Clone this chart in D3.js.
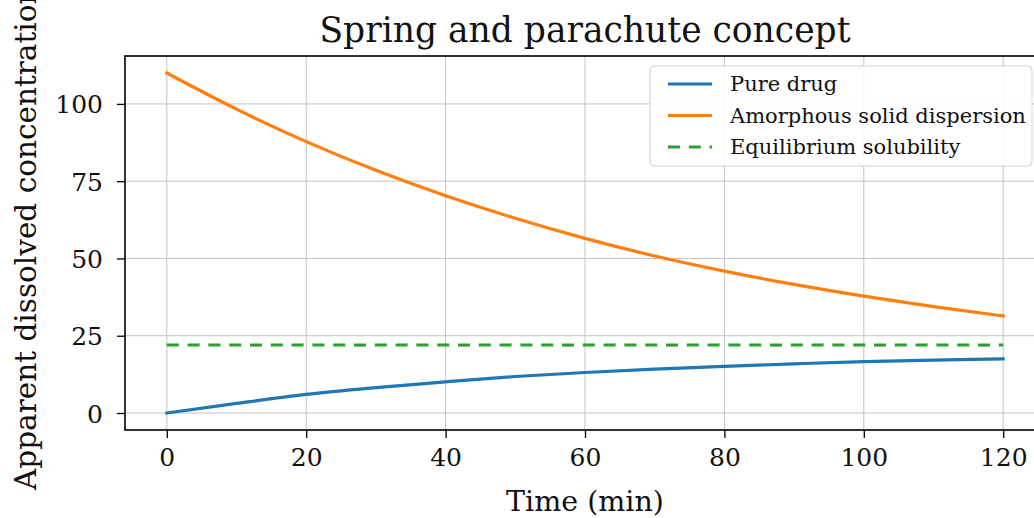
<!doctype html>
<html>
<head>
  <meta charset="utf-8" />
  <title>Spring and parachute concept</title>
  <script src="https://cdn.jsdelivr.net/npm/d3@7"></script>
  <style>
  html,body{margin:0;padding:0;background:#fff;overflow:hidden;}
  svg{display:block;font-family:"DejaVu Serif",serif;}
  </style>
</head>
<body>
<div id="chart"></div>
<script type="text/javascript">
// data
var times = [0,10,20,30,40,50,60,70,80,90,100,110,120];
var pureDrug = [0,3.1,6.0,8.2,10.1,11.8,13.1,14.2,15.1,15.9,16.6,17.1,17.5];
var asd = [110,98.3,87.8,78.5,70.3,63,56.5,50.8,45.9,41.6,37.8,34.4,31.4];
var eqSolubility = 22;
var xTicks = [0,20,40,60,80,100,120];
var yTicks = [0,25,50,75,100];
var seriesNames = ["Pure drug","Amorphous solid dispersion","Equilibrium solubility"];
var colors = ["#1f77b4","#ff7f0e","#2ca02c"];

var W=1034, H=518;
var m={left:125, top:56, right:1045, bottom:430};

var svg = d3.select("#chart").append("svg")
  .attr("width",W).attr("height",H);

var x = d3.scaleLinear().domain([-6,126]).range([m.left,m.right]);
var y = d3.scaleLinear().domain([-5.5,115.5]).range([m.bottom,m.top]);

// grid
var grid = svg.append("g");
grid.selectAll(".gx").data(xTicks).enter().append("line")
  .attr("x1",d=>x(d)).attr("x2",d=>x(d))
  .attr("y1",m.top).attr("y2",m.bottom)
  .attr("stroke","#c4c4c4").attr("stroke-width",1);
grid.selectAll(".gy").data(yTicks).enter().append("line")
  .attr("y1",d=>y(d)).attr("y2",d=>y(d))
  .attr("x1",m.left).attr("x2",m.right)
  .attr("stroke","#c4c4c4").attr("stroke-width",1);

// lines
var line = d3.line()
  .x(function(d,i){ return x(times[i]); })
  .y(function(d){ return y(d); })
  .curve(d3.curveMonotoneX);

svg.append("line")
  .attr("x1",x(times[0])).attr("x2",x(times[times.length-1]))
  .attr("y1",y(eqSolubility)).attr("y2",y(eqSolubility))
  .attr("stroke",colors[2]).attr("stroke-width",3.2)
  .attr("stroke-dasharray","12,8.8");

svg.append("path").attr("d",line(pureDrug))
  .attr("fill","none").attr("stroke",colors[0]).attr("stroke-width",3.2)
  .attr("stroke-linecap","square");
svg.append("path").attr("d",line(asd))
  .attr("fill","none").attr("stroke",colors[1]).attr("stroke-width",3.2)
  .attr("stroke-linecap","square");

// axes
var xAxis = svg.append("g").attr("transform","translate(0,"+m.bottom+")")
  .call(d3.axisBottom(x).tickValues(xTicks).tickSize(8).tickPadding(10).tickSizeOuter(0));
var yAxis = svg.append("g").attr("transform","translate("+m.left+",0)")
  .call(d3.axisLeft(y).tickValues(yTicks).tickSize(8).tickPadding(14).tickSizeOuter(0));
[xAxis,yAxis].forEach(function(g){
  g.select(".domain").remove();
  g.selectAll(".tick line").attr("stroke","#000").attr("stroke-width",1.3);
  g.selectAll(".tick text").attr("fill","#111").style("font-size","25px")
    .style("font-family","'DejaVu Serif',serif");
});
yAxis.selectAll(".tick text").attr("dy","0.36em");

// spines
svg.append("rect").attr("x",m.left).attr("y",m.top)
  .attr("width",m.right-m.left).attr("height",m.bottom-m.top)
  .attr("fill","none").attr("stroke","#000").attr("stroke-width",1.6);

// titles
svg.append("text").attr("x",585).attr("y",42)
  .attr("text-anchor","middle").style("font-size","34.5px").attr("fill","#111")
  .text("Spring and parachute concept");
svg.append("text").attr("x",585).attr("y",511)
  .attr("text-anchor","middle").style("font-size","28.5px").attr("fill","#111")
  .text("Time (min)");
svg.append("text")
  .attr("transform","translate(36,490) rotate(-90)")
  .attr("text-anchor","start").style("font-size","29.5px").attr("fill","#111")
  .text("Apparent dissolved concentration (\u00b5g/mL)");

// legend
var lg = svg.append("g").attr("transform","translate(650,66)");
lg.append("rect").attr("width",382).attr("height",100).attr("rx",4)
  .attr("fill","#fff").attr("fill-opacity",0.85)
  .attr("stroke","#d0d0d0").attr("stroke-width",1);
seriesNames.forEach(function(name,i){
  var yy = 18 + i*31.5;
  lg.append("line").attr("x1",18).attr("x2",62).attr("y1",yy).attr("y2",yy)
    .attr("stroke",colors[i]).attr("stroke-width",3.2)
    .attr("stroke-dasharray", i==2 ? "12,8.8" : null);
  lg.append("text").attr("x",80).attr("y",yy).attr("dy","0.35em")
    .style("font-size","21px").attr("fill","#111").text(name);
});
</script>
</body>
</html>
